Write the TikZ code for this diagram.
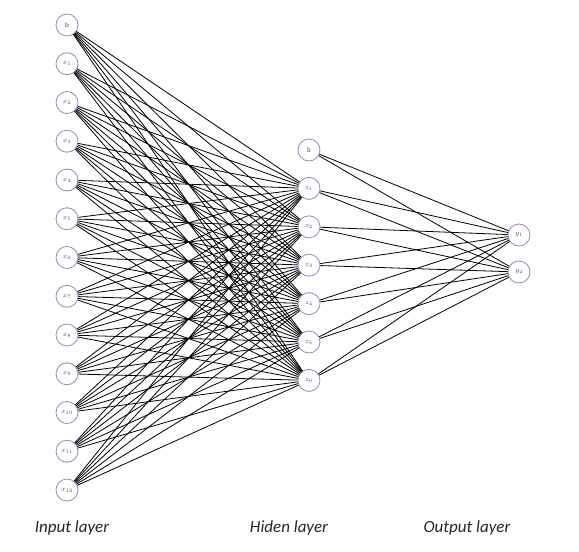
\documentclass[tikz,border=0pt]{standalone}
\usepackage{fontspec}
\setmainfont{Carlito}
\begin{document}
\begin{tikzpicture}[x=1pt,y=-1pt,
  neuron/.style={circle,draw=nodeblue,line width=0.8pt,minimum size=22pt,inner sep=0pt,font=\fontsize{7}{7}\selectfont,text=black!70},
  conn/.style={line width=0.8pt,black},
  layerlabel/.style={font=\fontsize{17}{17}\selectfont\itshape,text=black!85}]
\definecolor{nodeblue}{RGB}{135,145,185}
\useasboundingbox (0,0) rectangle (579,552);
% input layer
\node[neuron] (i0) at (67,25) {b};
\foreach \k in {1,...,12}{
  \node[neuron] (i\k) at (67,{25+38.75*\k}) {$x_{\k}$};
}
% hidden layer
\node[neuron] (h0) at (309,150) {b};
\foreach \k in {1,...,6}{
  \node[neuron] (h\k) at (309,{150+38.4*\k}) {$z_{\k}$};
}
% output layer
\node[neuron] (o1) at (519,235) {$y_1$};
\node[neuron] (o2) at (519,272) {$y_2$};
% connections
\foreach \a in {0,...,12}{
  \foreach \b in {1,...,6}{
    \draw[conn] (i\a) -- (h\b);
  }
}
\foreach \a in {0,...,6}{
  \foreach \b in {1,2}{
    \draw[conn] (h\a) -- (o\b);
  }
}
% labels
\node[layerlabel] (l1) at (72,528) {Input layer};
\node[layerlabel] (l2) at (289,528) {Hiden layer};
\node[layerlabel] (l3) at (467,528) {Output layer};
\end{tikzpicture}
\end{document}
